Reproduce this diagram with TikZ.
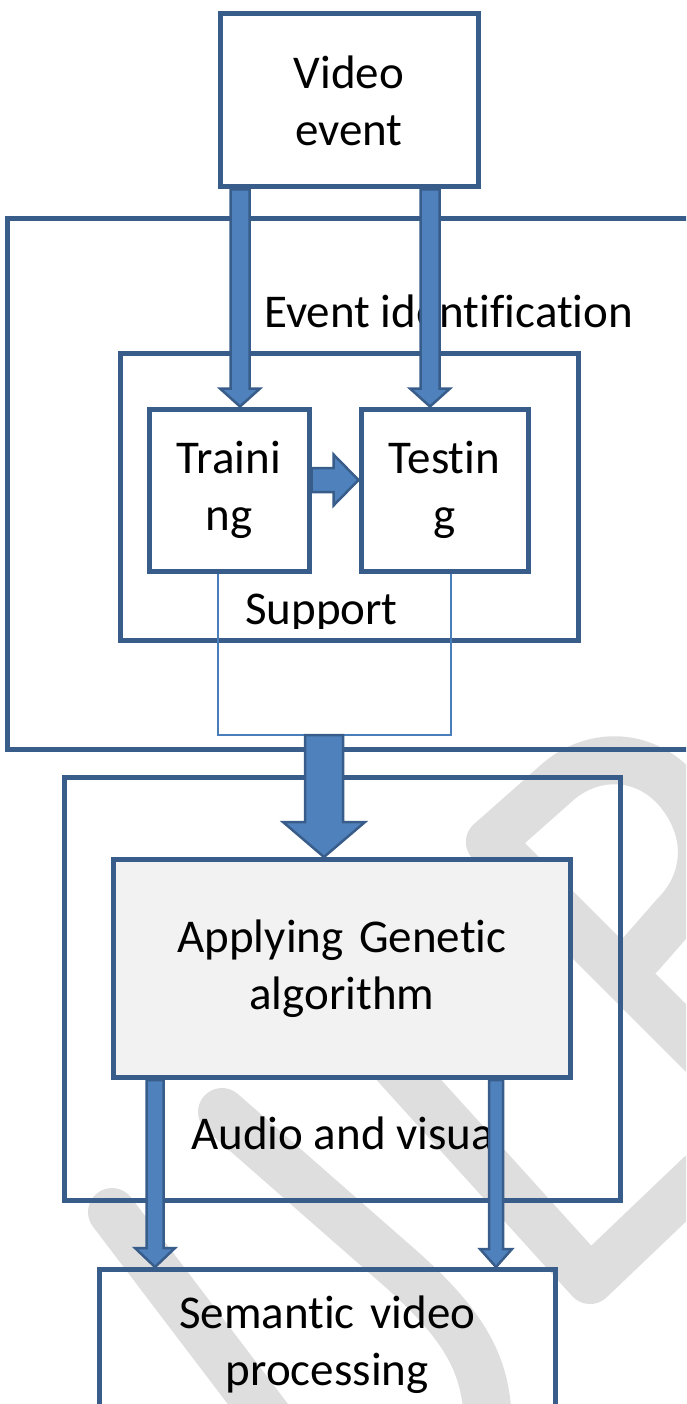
\documentclass[tikz,border=0pt]{standalone}
\usepackage{fontspec}
\setmainfont{Carlito}[Ligatures={NoCommon}]
\usetikzlibrary{calc}

\definecolor{boxline}{HTML}{385D8A}
\definecolor{arrowfill}{HTML}{4F81BD}
\definecolor{linkline}{HTML}{4A7EBB}
\definecolor{genfill}{HTML}{F2F2F2}
\definecolor{markgray}{HTML}{DEDEDE}

\newcommand{\boxfont}{\fontsize{47}{57}\selectfont}

\tikzset{
  box/.style={draw=boxline, line width=5pt, inner sep=0pt, align=center, font=\boxfont},
  frame/.style={draw=boxline, line width=5pt, inner sep=0pt},
  lbl/.style={inner sep=0pt, font=\boxfont},
  blockarrow/.style={fill=arrowfill, draw=boxline, line width=2.5pt},
  link/.style={draw=linkline, line width=1.8pt},
  wmark/.style={draw=markgray, line width=48pt, line cap=round, line join=round}
}

% block arrow pointing down: from, to, half shaft, half head, head length
\newcommand{\dnarrow}[5]{%
  \path[blockarrow] let \p1=#1, \p2=#2 in
    (\x1-#3,\y1) -- (\x1+#3,\y1) -- (\x1+#3,\y2+#5) -- (\x1+#4,\y2+#5)
    -- (\x1,\y2) -- (\x1-#4,\y2+#5) -- (\x1-#3,\y2+#5) -- cycle;}
% block arrow pointing right
\newcommand{\rtarrow}[5]{%
  \path[blockarrow] let \p1=#1, \p2=#2 in
    (\x1,\y1-#3) -- (\x2-#5,\y1-#3) -- (\x2-#5,\y1-#4) -- (\x2,\y1)
    -- (\x2-#5,\y1+#4) -- (\x2-#5,\y1+#3) -- (\x1,\y1+#3) -- cycle;}

\begin{document}
\begin{tikzpicture}[x=1pt,y=-1pt]
  \clip (0,0) rectangle (686,1404);

  % background mark
  \draw[wmark] (112,1212) -- (270,1420);
  \draw[wmark] (222,1112) -- (400,1268) .. controls (470,1330) and (488,1370) .. (488,1430);
  \draw[wmark] (380,1048) -- (590,1280) -- (700,1175);
  \draw[wmark] (490,842) -- (740,1092);
  \draw[wmark] (490,842) -- (560,780) .. controls (600,748) and (655,755) .. (685,800)
    .. controls (712,840) and (705,885) .. (675,915) -- (640,955);

  % arrow positions
  \coordinate (xa) at (240,0);
  \coordinate (xb) at (430,0);
  \coordinate (xc) at (324,0);
  \coordinate (xd) at (155,0);
  \coordinate (xe) at (496,0);
  \coordinate (ya) at (0,480);
  \coordinate (sl) at (218,0);
  \coordinate (sr) at (451,0);
  \coordinate (sbot) at (335,735);

  \node[box, minimum width=258pt, minimum height=173pt, text width=230pt] (video) at (349,100.5) {Video\\event};

  % event identification
  \node[frame, minimum width=760pt, minimum height=530pt] (evbox) at (387,484) {};
  \node[lbl, anchor=base west] (evlbl) at (264,327) {Event identification};
  \node[frame, minimum width=458pt, minimum height=287pt] (supbox) at (349.5,496.5) {};
  \node[box, minimum width=160pt, minimum height=162pt, text width=150pt] (train) at (229,490) {Traini\\ng};
  \node[box, minimum width=167pt, minimum height=162pt, text width=150pt] (test) at (444.5,490) {Testin\\g};
  \begin{scope}
    \clip (120,560) rectangle (578,628);
    \node[lbl, anchor=base west] (suplbl) at (245,624) {Support};
  \end{scope}
  \draw[link] (train.south -| sl) |- (sbot) -| (test.south -| sr);

  % audio and visual
  \node[frame, minimum width=556pt, minimum height=423pt] (avbox) at (342,989) {};
  \node[lbl, anchor=base west] (avlbl) at (191,1149) {Audio and visual};
  \node[box, fill=genfill, minimum width=457pt, minimum height=218pt, text width=440pt] (gen) at (342,968.5) {Applying Genetic\\algorithm};

  \node[box, minimum width=456.5pt, minimum height=150pt, text width=440pt] (sem) at (327.25,1344.5) {Semantic video\\processing};

  % arrows
  \dnarrow{(video.south -| xa)}{(train.north -| xa)}{9.5pt}{20pt}{18pt}
  \dnarrow{(video.south -| xb)}{(test.north -| xb)}{9.5pt}{20pt}{18pt}
  \rtarrow{(train.east |- ya)}{(test.west |- ya)}{12pt}{25.5pt}{25pt}
  \dnarrow{(sbot -| xc)}{(gen.north -| xc)}{19pt}{41pt}{35pt}
  \dnarrow{(gen.south -| xd)}{(sem.north -| xd)}{8.5pt}{20pt}{19pt}
  \dnarrow{(gen.south -| xe)}{(sem.north -| xe)}{7pt}{16pt}{18pt}
\end{tikzpicture}
\end{document}
